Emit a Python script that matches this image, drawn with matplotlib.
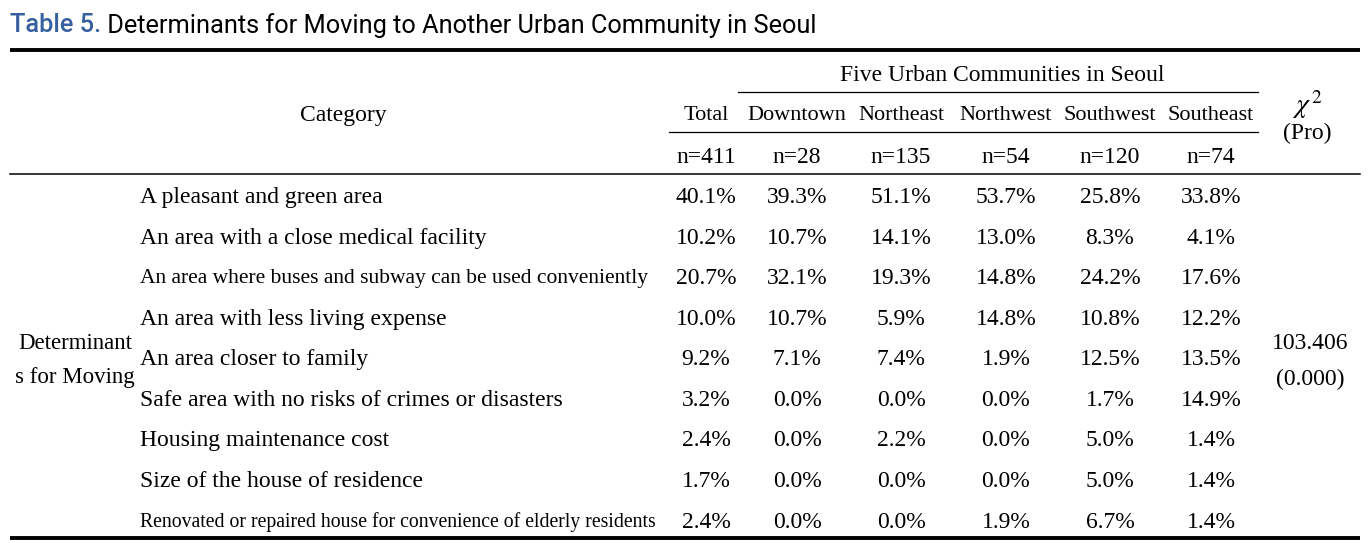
import matplotlib
matplotlib.use("Agg")
import matplotlib.pyplot as plt

# table content
title_label = "Table 5."
title_text = " Determinants for Moving to Another Urban Community in Seoul"
group_header = "Five Urban Communities in Seoul"
columns = ["Total", "Downtown", "Northeast", "Northwest", "Southwest", "Southeast"]
sample_sizes = ["n=411", "n=28", "n=135", "n=54", "n=120", "n=74"]
categories = [
    "A pleasant and green area",
    "An area with a close medical facility",
    "An area where buses and subway can be used conveniently",
    "An area with less living expense",
    "An area closer to family",
    "Safe area with no risks of crimes or disasters",
    "Housing maintenance cost",
    "Size of the house of residence",
    "Renovated or repaired house for convenience of elderly residents",
]
total = [40.1, 10.2, 20.7, 10.0, 9.2, 3.2, 2.4, 1.7, 2.4]
downtown = [39.3, 10.7, 32.1, 10.7, 7.1, 0.0, 0.0, 0.0, 0.0]
northeast = [51.1, 14.1, 19.3, 5.9, 7.4, 0.0, 2.2, 0.0, 0.0]
northwest = [53.7, 13.0, 14.8, 14.8, 1.9, 0.0, 0.0, 0.0, 1.9]
southwest = [25.8, 8.3, 24.2, 10.8, 12.5, 1.7, 5.0, 5.0, 6.7]
southeast = [33.8, 4.1, 17.6, 12.2, 13.5, 14.9, 1.4, 1.4, 1.4]
chi2 = "103.406"
p_value = "(0.000)"

W, H = 1371, 543
fig = plt.figure(figsize=(W / 100, H / 100), dpi=100)
ax = fig.add_axes([0, 0, 1, 1])
ax.set_xlim(0, W)
ax.set_ylim(H, 0)
ax.axis("off")

serif = "Liberation Serif"
fs = 17
col_x = [706, 797, 901, 1006, 1110, 1211]
chi_x = 1307
va = "center_baseline"

# title
t1 = ax.text(10, 23, title_label, fontsize=18.3, color="#36609f", fontweight="medium",
             family="Roboto", va=va, ha="left")
fig.canvas.draw()
bb = t1.get_window_extent().transformed(ax.transData.inverted())
ax.text(bb.x1, 23, title_text, fontsize=18.3, color="black", family="Roboto",
        va=va, ha="left")

# rules
ax.plot([10, 1360], [50, 50], color="black", lw=2.8, solid_capstyle="butt")
ax.plot([738, 1258], [92, 92], color="black", lw=0.9)
ax.plot([669, 1258], [132, 132], color="black", lw=0.9)
ax.plot([10, 1360], [174, 174], color="black", lw=1.1)
ax.plot([10, 1360], [538, 538], color="black", lw=2.8, solid_capstyle="butt")

# header
ax.text(1002, 73, group_header, fontsize=fs, family=serif, ha="center", va=va)
ax.text(343, 113, "Category", fontsize=fs, family=serif, ha="center", va=va)
for x, c, n in zip(col_x, columns, sample_sizes):
    ax.text(x, 113, c, fontsize=16, family=serif, ha="center", va=va)
    ax.text(x, 155, n, fontsize=fs, family=serif, ha="center", va=va)
ax.text(chi_x, 101, r"$\chi^{\,2}$", fontsize=20, family=serif, ha="center", va=va,
        math_fontfamily="stix")
ax.text(chi_x, 131, "(Pro)", fontsize=fs, family=serif, ha="center", va=va)

# body; long rows are squeezed to fit their column in the original
row_y = [195, 236, 276, 317, 357, 398, 438, 479, 520]
squeeze = {2: 15.5, 8: 14.2}
series = [total, downtown, northeast, northwest, southwest, southeast]
for i, (y, cat) in enumerate(zip(row_y, categories)):
    ax.text(140, y, cat, fontsize=squeeze.get(i, fs), family=serif, ha="left", va=va)
    for x, s in zip(col_x, series):
        ax.text(x, y, f"{s[i]:.1f}%", fontsize=fs, family=serif, ha="center", va=va)

ax.text(75, 341, "Determinant", fontsize=16.5, family=serif, ha="center", va=va)
ax.text(75, 375, "s for Moving", fontsize=16.5, family=serif, ha="center", va=va)
ax.text(1310, 341, chi2, fontsize=fs, family=serif, ha="center", va=va)
ax.text(1310, 377, p_value, fontsize=fs, family=serif, ha="center", va=va)

fig.savefig("out.png", dpi=100)
